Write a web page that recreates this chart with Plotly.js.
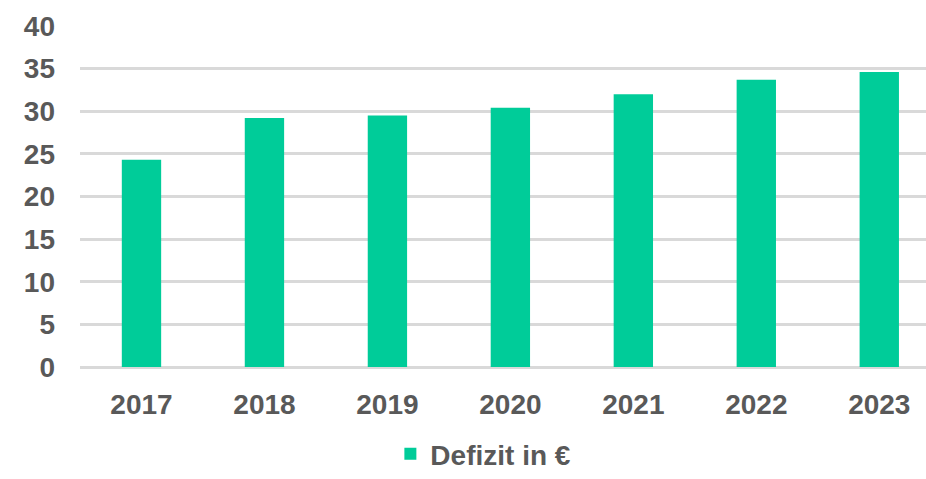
<!DOCTYPE html>
<html>
<head>
<meta charset="utf-8">
<script src="https://cdn.plot.ly/plotly-3.0.1.min.js"></script>
<style>
  html, body { margin: 0; padding: 0; background: #fff; }
  #chart { width: 926px; height: 479px; }
</style>
</head>
<body>
<div id="chart"></div>
<script>
// data
var years   = ["2017", "2018", "2019", "2020", "2021", "2022", "2023"];
var defizit = [24.3, 29.2, 29.5, 30.4, 32.0, 33.7, 34.6];
var yTicks  = [0, 5, 10, 15, 20, 25, 30, 35, 40];

var labelFont = { family: "Liberation Sans, Arial, sans-serif", size: 28, color: "#595959", weight: "bold" };

var trace = {
    x      : years,
    y      : defizit,
    type   : "bar",
    name   : "Defizit in €",
    marker : { color: "#00cc99" },
    hoverinfo : "x+y"
};

var layout = {
    width  : 926,
    height : 479,
    margin : { l: 80, r: 0, t: 26, b: 112 },
    paper_bgcolor : "#ffffff",
    plot_bgcolor  : "#ffffff",
    bargap : 0.68,
    font   : labelFont,
    xaxis  : {
        type : "category",
        range : [-0.5, 6.38],
        showgrid : false,
        zeroline : false,
        showline : false,
        ticks : "",
        ticklabelstandoff : 18,
        tickfont : labelFont
    },
    yaxis  : {
        range : [0, 40],
        tickvals : yTicks,
        showgrid : true,
        gridcolor : "#d9d9d9",
        gridwidth : 3,
        zeroline : true,
        zerolinecolor : "#d9d9d9",
        zerolinewidth : 3,
        showline : false,
        ticks : "",
        ticklabelstandoff : 24,
        tickfont : labelFont
    },
    showlegend : true,
    legend : {
        orientation : "h",
        xref : "container",
        yref : "container",
        x : 0.522,
        xanchor : "center",
        y : 0,
        yanchor : "bottom",
        borderwidth : 0,
        font : labelFont
    }
};

Plotly.newPlot("chart", [trace], layout, { displayModeBar: false, staticPlot: true });
</script>
</body>
</html>
